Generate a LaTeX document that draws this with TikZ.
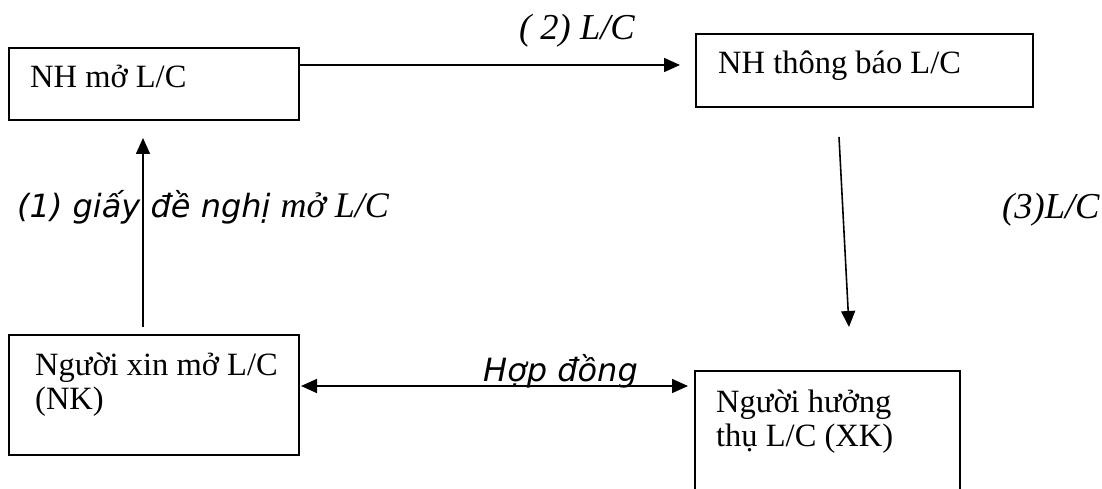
\documentclass[tikz,border=0pt]{standalone}
\usepackage{fontspec}
\setmainfont{Liberation Serif}
\newfontfamily\dvsans{DejaVu Sans}
\usetikzlibrary{arrows.meta,calc}
\begin{document}
\begin{tikzpicture}[x=1pt,y=-1pt,
  box/.style={draw,line width=2pt,inner sep=0pt,anchor=north west},
  openbox/.style={inner sep=0pt,anchor=north west},
  txt/.style={anchor=base west,inner sep=0pt,font=\fontsize{32.5}{34}\selectfont},
  lbl/.style={anchor=base west,inner sep=0pt,font=\fontsize{36.5}{40}\selectfont\itshape},
  sanslbl/.style={anchor=base west,inner sep=0pt,font=\fontsize{32}{36}\selectfont\dvsans\itshape},
  arr/.style={line width=1.6pt,-{Triangle[length=16pt,width=14pt]}},
  darr/.style={line width=1.6pt,{Triangle[length=16pt,width=14pt]}-{Triangle[length=16pt,width=14pt]}}]
\useasboundingbox (0,0) rectangle (1102,489);
% boxes
\node[box,minimum width=290pt,minimum height=72pt] (A) at (8,47) {};
\node[box,minimum width=337pt,minimum height=73pt] (B) at (695,33) {};
\node[box,minimum width=290pt,minimum height=120pt] (C) at (8,334) {};
\node[openbox,minimum width=265pt,minimum height=118pt] (D) at (695,371) {};
\draw[line width=2pt] (D.south west) -- (D.north west) -- (D.north east) -- (D.south east);
% box texts
\node[txt] (At) at (30,88) {NH mở L/C};
\node[txt] (Bt) at (718,74) {NH thông báo L/C};
\node[txt] (Ct1) at (35,375) {Người xin mở L/C};
\node[txt] (Ct2) at (35,409) {(NK)};
\node[txt] (Dt1) at (716,412) {Người hưởng};
\node[txt] (Dt2) at (716,446) {thụ L/C (XK)};
% labels
\node[lbl] (L2) at (519,40) {( 2) L/C};
\node[lbl] (L3) at (1002,218) {(3)L/C};
\node[anchor=base west,inner sep=0pt] (L1) at (17,217) {{\fontsize{32}{36}\selectfont\dvsans\itshape (1) giấy đề nghị }{\fontsize{36}{40}\selectfont\itshape mở L/C}};
\node[sanslbl] (HD) at (483,381) {Hợp đồng};
% connectors
\draw[arr] ($(A.north east)+(0,18)$) -- ($(B.north west)+(-15,32)$);
\draw[arr] ($(C.north west)+(135,-7)$) -- ($(A.south west)+(135,17)$);
\draw[arr] ($(B.south west)+(144,29)$) -- ($(D.north west)+(154,-44)$);
\draw[darr] ($(C.north east)+(1,52)$) -- ($(D.north west)+(-7,15)$);
\end{tikzpicture}
\end{document}
